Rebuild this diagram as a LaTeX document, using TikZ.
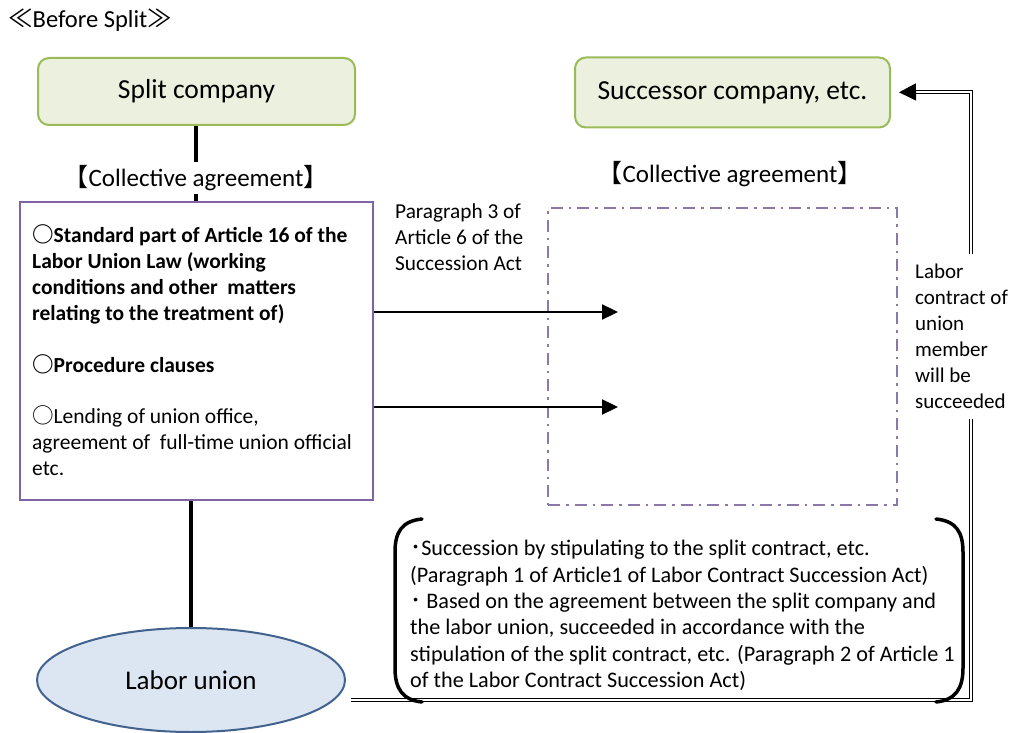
\documentclass[tikz,border=0pt]{standalone}
\usepackage{fontspec}
\setmainfont{Carlito}
\newfontfamily\cjk{Noto Sans CJK JP}
\usetikzlibrary{shapes.geometric,arrows.meta,calc}

\definecolor{boxfill}{HTML}{EBF1DE}
\definecolor{boxline}{HTML}{9BBB59}
\definecolor{agrline}{HTML}{8064A2}
\definecolor{newline}{HTML}{8C78A8}
\definecolor{unionfill}{HTML}{DCE6F2}
\definecolor{unionline}{HTML}{41628E}

\tikzset{
  company/.style={draw=boxline, fill=boxfill, line width=2pt, rounded corners=11pt,
    inner sep=0pt, font=\fontsize{27.5}{32}\selectfont},
  heading/.style={fill=white, inner sep=3pt, font=\fontsize{25}{30}\selectfont},
  body/.style={anchor=north west, inner sep=0pt, align=left, font=\fontsize{21.5}{26}\selectfont},
  link/.style={line width=4pt},
  transfer/.style={line width=2.3pt, -{Triangle[length=16pt,width=15pt]}},
  dline/.style={double, double distance=2.2pt, line width=1pt, line join=miter},
  paren/.style={line width=3.5pt, line cap=round},
}

\begin{document}
\begin{tikzpicture}[x=1pt,y=-1pt]
\useasboundingbox (0,0) rectangle (1013,733);

% title
\node[anchor=west, inner sep=0pt, font=\fontsize{24.5}{28}\selectfont] (title) at (8,20)
  {{\cjk ≪}Before Split{\cjk ≫}};

% companies
\node[company, minimum width=317pt, minimum height=67pt] (split) at (196.5,91.5) {Split company};
\node[company, minimum width=315pt, minimum height=70pt] (succ) at (732.5,92.5) {Successor company, etc.};

% collective agreement of the split company
\node[draw=agrline, line width=2.5pt, minimum width=353pt, minimum height=298pt, inner sep=0pt]
  (agr) at (196.5,351) {};
\node[heading] (agrhead) at (196,178) {{\cjk 【}Collective agreement{\cjk 】}};

\node[body] (item1) at (32,224)
  {\bfseries{\cjk ○}Standard part of Article 16 of the\\
   \bfseries Labor Union Law (working\\
   \bfseries conditions and other\ \ matters\\
   \bfseries relating to the treatment of)};
\node[body] (item2) at (32,354) {\bfseries{\cjk ○}Procedure clauses};
\node[body] (item3) at (32,405)
  {{\cjk ○}Lending of union office,\\
   agreement of\ \ full-time union official\\
   etc.};

% labor union
\node[ellipse, draw=unionline, fill=unionfill, line width=2pt, minimum width=308pt,
  minimum height=104pt, inner sep=0pt, font=\fontsize{27}{32}\selectfont]
  (union) at (191,680) {Labor union};

% links company -- agreement -- union
\draw[link] (split.south -| agrhead) -- (agrhead.north);
\draw[link] (agrhead.south) -- (agr.north -| agrhead);
\draw[link] (agr.south -| union.north) -- (union.north);

% collective agreement of the successor company
\node[heading] (succhead) at (730,174) {{\cjk 【}Collective agreement{\cjk 】}};
\node[draw=newline, line width=2.4pt, dash pattern=on 12pt off 6pt on 2.5pt off 6pt,
  minimum width=349pt, minimum height=297pt, inner sep=0pt] (newagr) at (722.5,356.5) {};

\node[body, font=\fontsize{21.3}{26}\selectfont] (para3) at (395,204)
  {Paragraph 3 of\\ Article 6 of the\\ Succession Act};

% succession arrows
\coordinate (t1) at (618,312);
\coordinate (t2) at (618,407);
\draw[transfer] (agr.east |- t1) -- (t1);
\draw[transfer] (agr.east |- t2) -- (t2);

% labor contract route, interrupted by its label
\node[anchor=north west, fill=white, inner xsep=2pt, inner ysep=10pt, align=left,
  font=\fontsize{21}{26}\selectfont] (contract) at (913,254)
  {Labor\\ contract of\\ union\\ member\\ will be\\ succeeded};
\coordinate (r0) at ($(union.east)+(5,20)$);
\coordinate (r1) at (971,700);
\coordinate (r2) at (971,92);
\coordinate (r3) at (916,92);
\draw[dline] (r0) -- (r1) -- (contract.south -| r1);
\draw[dline] (contract.north -| r2) -- (r2) -- (r3);
\draw[line width=1.5pt, shorten >=8pt, -{Triangle[length=17pt,width=17pt]}] (r3) -- (succ.east);

% explanatory note in large parentheses
\node[body, font=\fontsize{22.2}{26.4}\selectfont] (note) at (410,540)
  {{\cjk ･}Succession by stipulating to the split contract, etc.\\
   (Paragraph 1 of Article1 of Labor Contract Succession Act)\\
   {\cjk ･} Based on the agreement between the split company and\\
   the labor union, succeeded in accordance with the\\
   stipulation of the split contract, etc. (Paragraph 2 of Article 1\\
   of the Labor Contract Succession Act)};
\draw[paren] (422,519) .. controls (402,521) and (395,532) .. (395,552) -- (395,668)
  .. controls (395,688) and (402,700) .. (422,702);
\draw[paren] (936,519) .. controls (956,521) and (963,532) .. (963,552) -- (963,668)
  .. controls (963,688) and (956,700) .. (936,702);
\end{tikzpicture}
\end{document}
